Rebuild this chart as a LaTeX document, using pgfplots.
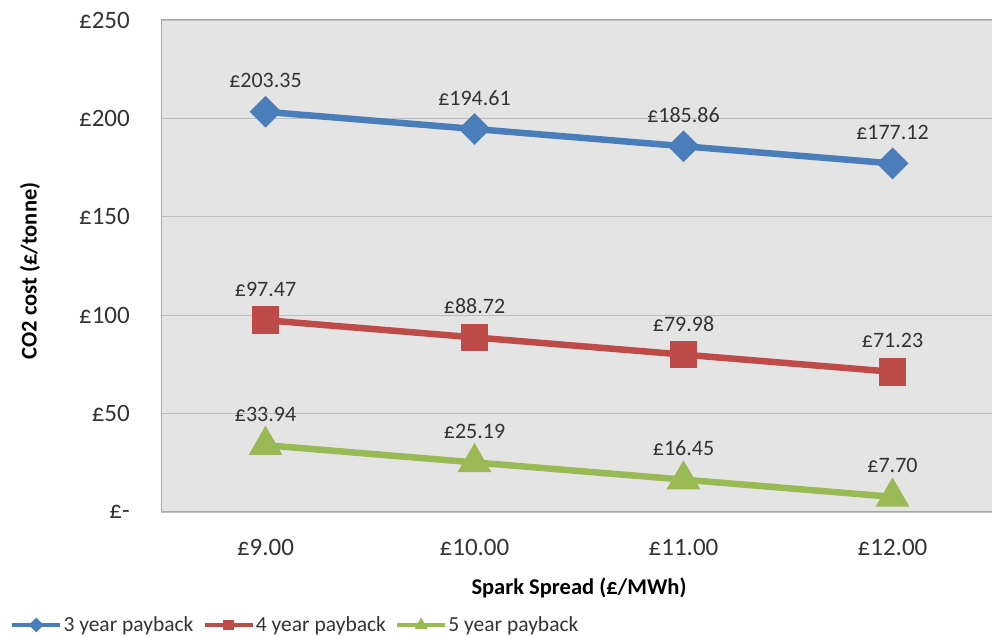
\documentclass[border=0pt]{standalone}
\usepackage{fontspec}
\setmainfont{Carlito}
\usepackage{pgfplots}
\pgfplotsset{compat=1.18}

\definecolor{s3}{HTML}{4A7EBB}
\definecolor{s4}{HTML}{BE4B48}
\definecolor{s5}{HTML}{98B954}
\definecolor{plotbg}{HTML}{E4E4E4}
\definecolor{gridc}{HTML}{BDBDBD}
\definecolor{framec}{HTML}{A8A8A8}
\definecolor{txt}{HTML}{333333}

\begin{document}
\begin{tikzpicture}
\useasboundingbox (0pt,0pt) rectangle (992pt,636pt);
\begin{axis}[
  at={(161pt,124pt)}, anchor=south west,
  scale only axis, width=836pt, height=492pt,
  xmin=8.5, xmax=12.5, ymin=0, ymax=250,
  axis background/.style={fill=plotbg},
  axis line style={draw=framec, line width=1pt},
  xtick={9,10,11,12},
  xticklabels={£9.00,£10.00,£11.00,£12.00},
  ytick={0,50,100,150,200,250},
  yticklabels={£-,£50,£100,£150,£200,£250},
  major tick length=0pt,
  ymajorgrids,
  grid style={draw=gridc, line width=1.3pt},
  tick label style={font=\fontsize{25}{28}\selectfont, text=txt, inner sep=0pt},
  yticklabel style={anchor=east, xshift=-31pt},
  xticklabel style={anchor=north, yshift=-27pt},
  xlabel={\textbf{Spark Spread (£/MWh)}},
  ylabel={\textbf{CO2 cost (£/tonne)}},
  label style={font=\fontsize{22.5}{25}\selectfont, text=black},
  xlabel style={at={(axis description cs:0.5,-0.1545)}, anchor=center},
  ylabel style={at={(axis description cs:-0.1567,0.49)}, anchor=center},
  legend style={
    at={(axis description cs:-0.1806,-0.2297)}, anchor=west,
    draw=none, fill=none, inner sep=0pt, outer sep=0pt,
    font=\fontsize{21.5}{24}\selectfont, text=txt,
    nodes={inner xsep=1pt, inner ysep=0pt},
    /tikz/every even column/.append style={column sep=8pt},
  },
  legend columns=3,
  legend cell align=left,
  legend image code/.code={%
    \draw[mark repeat=2, mark phase=2, #1, line width=4.5pt, mark size=3pt]
      plot coordinates {(0pt,0pt) (24pt,0pt) (48pt,0pt)};},
  nodes near coords={£\pgfmathprintnumber[fixed, fixed zerofill, precision=2, assume math mode=true]{\pgfplotspointmeta}},
  point meta=y,
  every node near coord/.append style={anchor=center, yshift=31pt,
    font=\fontsize{22}{24}\selectfont, text=txt},
  clip=false,
]
% 3 year payback
\addplot[s3, line width=6.5pt, mark=square*, mark size=8pt,
  mark options={rotate=45, solid}]
  coordinates {(9,203.35) (10,194.61) (11,185.86) (12,177.12)};
\addlegendentry{3 year payback}
% 4 year payback
\addplot[s4, line width=6.5pt, mark=square*, mark size=10.5pt]
  coordinates {(9,97.47) (10,88.72) (11,79.98) (12,71.23)};
\addlegendentry{4 year payback}
% 5 year payback
\addplot[s5, line width=6.5pt, mark=triangle*, mark size=13pt]
  coordinates {(9,33.94) (10,25.19) (11,16.45) (12,7.70)};
\addlegendentry{5 year payback}
\end{axis}
\end{tikzpicture}
\end{document}
